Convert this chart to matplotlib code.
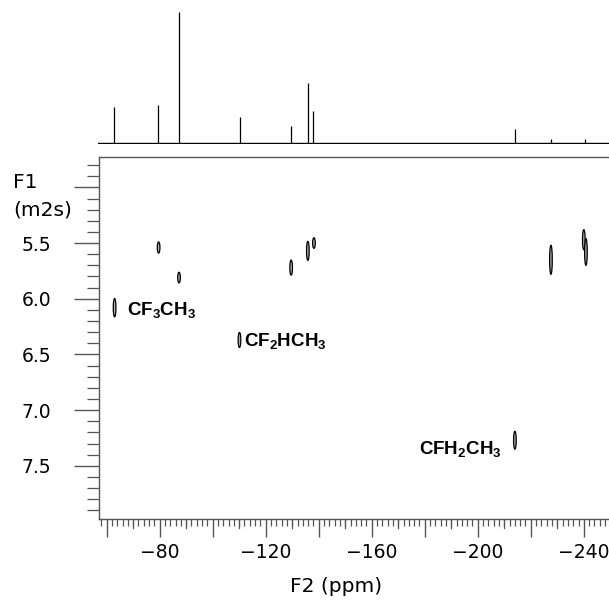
import matplotlib
matplotlib.use("Agg")
import matplotlib.pyplot as plt
from matplotlib.patches import Ellipse
from matplotlib.ticker import MultipleLocator, FixedLocator

plt.rcParams['font.family'] = ['DejaVu Sans']
plt.rcParams['mathtext.fontset'] = 'custom'
plt.rcParams['mathtext.bf'] = 'Liberation Sans:bold'
plt.rcParams['mathtext.rm'] = 'Liberation Sans'

# 1D projection spectrum (F2 ppm, relative height)
peak_ppm = [-63.1, -79.5, -87.3, -110.5, -129.6, -135.9, -138.1, -214.0, -227.7, -240.5]
peak_height = [35.6, 38.3, 131.0, 25.6, 17.3, 60.3, 31.6, 14.0, 4.3, 4.0]

# 2D cross peaks: F2 (ppm), F1 (m2s), extent along F1
spot_f2 = [-63.0, -79.6, -87.3, -110.1, -129.6, -135.9, -138.2, -214.0, -227.6, -240.0, -240.8]
spot_f1 = [6.08, 5.54, 5.81, 6.37, 5.72, 5.57, 5.50, 7.27, 5.65, 5.47, 5.58]
spot_len = [0.165, 0.10, 0.095, 0.135, 0.135, 0.17, 0.095, 0.16, 0.26, 0.18, 0.24]

# compound labels
label_text = [r'$\mathbf{CF_3CH_3}$', r'$\mathbf{CF_2HCH_3}$', r'$\mathbf{CFH_2CH_3}$']
label_f2 = [-67.6, -112.0, -177.7]
label_f1 = [6.10, 6.38, 7.35]

x_major = [-80, -120, -160, -200, -240]
y_major = [5.5, 6.0, 6.5, 7.0, 7.5]

xlim = (-57.0, -249.5)
ylim = (7.98, 4.73)

W, H = 609, 600
fig = plt.figure(figsize=(W / 100, H / 100), dpi=100)

gray = '#555555'

# main 2D axes
axm = fig.add_axes([98.7 / W, (H - 519.3) / H, (W - 98.7) / W, (519.3 - 157.3) / H])
axm.set_xlim(*xlim)
axm.set_ylim(*ylim)
for s in ['left', 'bottom', 'top']:
    axm.spines[s].set_color(gray)
    axm.spines[s].set_linewidth(1.0)
axm.spines['right'].set_visible(False)

for x, y, l in zip(spot_f2, spot_f1, spot_len):
    axm.add_patch(Ellipse((x, y), width=1.0, height=l, facecolor='#b0b0b0',
                          edgecolor='black', linewidth=0.9))

for t, x, y in zip(label_text, label_f2, label_f1):
    axm.text(x, y, t, fontsize=13.5, ha='left', va='center', color='black')

# x ticks: labelled every 40, long every 20, medium every 10, minor every 2
x_long = [-60, -80, -100, -120, -140, -160, -180, -200, -220, -240]
axm.xaxis.set_major_locator(FixedLocator(x_long))
axm.set_xticklabels(['' if v not in x_major else '\u2212%d' % abs(v) for v in x_long])
axm.xaxis.set_minor_locator(MultipleLocator(2))
axm.tick_params(axis='x', which='major', direction='out', length=13, width=1.0,
                color=gray, labelsize=13.5, pad=4)
axm.tick_params(axis='x', which='minor', direction='out', length=5, width=0.9, color=gray)
for v in range(-70, -250, -20):
    axm.plot([v, v], [0, -0.023], transform=axm.get_xaxis_transform(), color=gray,
             lw=0.9, clip_on=False)

axm.yaxis.set_major_locator(FixedLocator([5.0] + y_major))
axm.set_yticklabels([''] + ['%.1f' % v for v in y_major])
axm.yaxis.set_minor_locator(MultipleLocator(0.1))
axm.tick_params(axis='y', which='major', direction='out', length=18, width=1.0,
                color=gray, labelsize=13.5, pad=16)
axm.tick_params(axis='y', which='minor', direction='out', length=9, width=0.9, color=gray)

fig.text(13 / W, 1 - 182 / H, 'F1', fontsize=14.5, ha='left', va='center')
fig.text(13 / W, 1 - 210 / H, '(m2s)', fontsize=14.5, ha='left', va='center')
fig.text(336 / W, 1 - 587 / H, 'F2 (ppm)', fontsize=14.5, ha='center', va='center')

# top 1D spectrum axes
axs = fig.add_axes([98.3 / W, (H - 144) / H, (W - 98.3) / W, (144 - 12) / H])
axs.set_xlim(*xlim)
axs.set_ylim(-1, 131)
axs.axis('off')
axs.axhline(0, color='black', lw=1.0)
axs.vlines(peak_ppm, 0, peak_height, color='black', lw=0.9)

fig.savefig('out.png', dpi=100)
